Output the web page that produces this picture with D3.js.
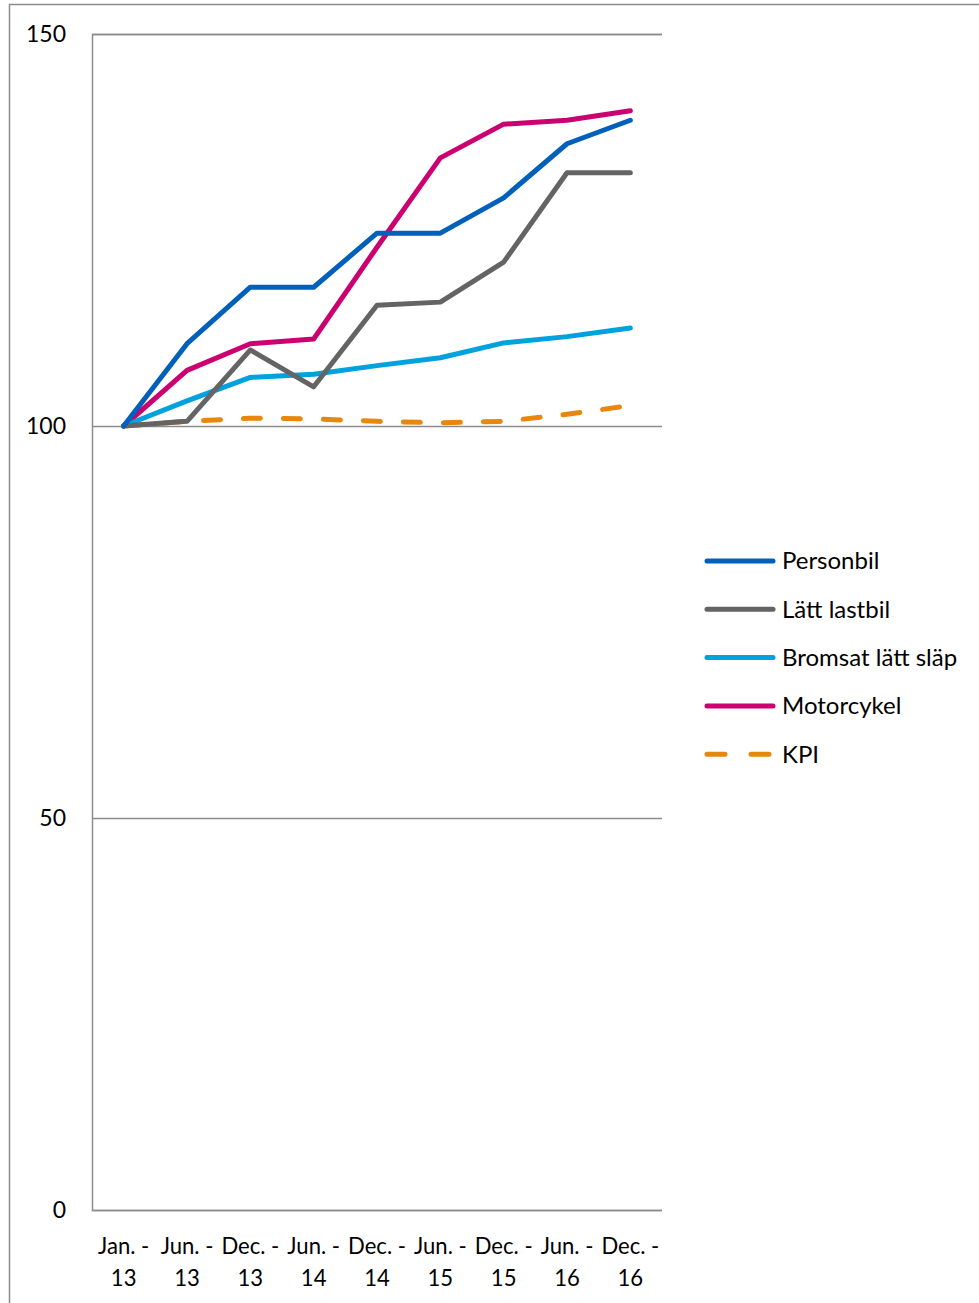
<!DOCTYPE html>
<html>
<head>
<meta charset="utf-8">
<script src="https://cdn.jsdelivr.net/npm/d3@7/dist/d3.min.js"></script>
<style>
  body { margin: 0; background: #fff; }
  text { font-family: Lato, "Open Sans", sans-serif; fill: #000; }
</style>
</head>
<body>
<script>
var periods = ["Jan. - 13", "Jun. - 13", "Dec. - 13", "Jun. - 14", "Dec. - 14", "Jun. - 15", "Dec. - 15", "Jun. - 16", "Dec. - 16"];
var personbil = [100, 110.5, 117.7, 117.7, 124.6, 124.6, 129.1, 136.0, 139.0];
var lattLastbil = [100, 100.6, 109.7, 105.0, 115.4, 115.8, 120.9, 132.3, 132.3];
var bromsat = [100, 103.2, 106.2, 106.6, 107.7, 108.7, 110.6, 111.4, 112.5];
var motorcykel = [100, 107.1, 110.5, 111.1, 122.8, 134.2, 138.5, 139.0, 140.2];
var kpi = [100, 100.6, 101.0, 100.9, 100.6, 100.4, 100.6, 101.5, 102.6];
var yTicks = [0, 50, 100, 150];

var series = [
  {name: "Personbil", values: personbil, color: "#0060BA", dash: null},
  {name: "Lätt lastbil", values: lattLastbil, color: "#646464", dash: null},
  {name: "Bromsat lätt släp", values: bromsat, color: "#00A2DE", dash: null},
  {name: "Motorcykel", values: motorcykel, color: "#CC0070", dash: null},
  {name: "KPI", values: kpi, color: "#E8870C", dash: "17,23"}
];

var screen = {width: 979, height: 1303};
var plot = {left: 92, right: 662, top: 34, bottom: 1210};

var svg = d3.select("body").append("svg")
    .attr("width", screen.width)
    .attr("height", screen.height)

// outer frame
svg.append("rect")
  .attr("x", 9.5).attr("y", 4.5)
  .attr("width", 1000).attr("height", 1400)
  .attr("fill", "none").attr("stroke", "#8c8c8c").attr("stroke-width", 1.5)

var xScale = d3.scaleBand()
  .domain(periods)
  .range([plot.left, plot.right])

var yScale = d3.scaleLinear()
  .domain([0, 150])
  .range([plot.bottom, plot.top])

// gridlines + y labels
var yAxis = d3.axisLeft(yScale)
  .tickValues(yTicks)
  .tickSize(-(plot.right - plot.left))
  .tickPadding(26)
svg.append("g")
  .attr("class", "yAxis")
  .attr("transform", "translate(" + plot.left + ",0)")
  .call(yAxis)
  .call(function(g){
    g.select(".domain").attr("stroke", "#8c8c8c").attr("stroke-width", 1.5)
    g.selectAll(".tick line").attr("stroke", "#8c8c8c").attr("stroke-width", 1.5)
    g.selectAll(".tick text").attr("font-size", 23).attr("font-family", "Lato, sans-serif").attr("fill", "#000")
  })

// x labels (two lines)
var xl = svg.append("g").attr("class", "xLabels")
  .selectAll("g")
  .data(periods)
  .enter()
  .append("g")
  .attr("transform", function(d){ return "translate(" + (xScale(d) + xScale.bandwidth()/2) + ",0) scale(0.96,1)" })
xl.append("text")
  .attr("text-anchor", "middle")
  .attr("y", 1254)
  .attr("font-size", 23)
  .text(function(d){ return d.split(" - ")[0] + " -" })
xl.append("text")
  .attr("text-anchor", "middle")
  .attr("y", 1286)
  .attr("font-size", 23)
  .text(function(d){ return d.split(" - ")[1] })

// lines
var line = d3.line()
  .x(function(d, i){ return xScale(periods[i]) + xScale.bandwidth()/2 })
  .y(function(d){ return yScale(d) })

svg.selectAll(".series")
  .data(series.slice().reverse())
  .enter()
  .append("path")
  .attr("class", "series")
  .attr("d", function(d){ return line(d.values) })
  .attr("fill", "none")
  .attr("stroke", function(d){ return d.color })
  .attr("stroke-width", 5)
  .attr("stroke-linejoin", "round")
  .attr("stroke-linecap", "round")
  .attr("stroke-dasharray", function(d){ return d.dash })

// legend
var legend = svg.append("g").attr("class", "legend")
  .selectAll("g")
  .data(series)
  .enter()
  .append("g")
  .attr("transform", function(d, i){ return "translate(707," + (561 + i*48.3) + ")" })
legend.append("line")
  .attr("x1", 0).attr("x2", 66)
  .attr("stroke", function(d){ return d.color })
  .attr("stroke-width", 5)
  .attr("stroke-linecap", "round")
  .attr("stroke-dasharray", function(d){ return d.dash ? "18,26" : null })
legend.append("text")
  .attr("x", 75)
  .attr("dy", "0.35em")
  .attr("font-size", 24)
  .text(function(d){ return d.name })
</script>
</body>
</html>
